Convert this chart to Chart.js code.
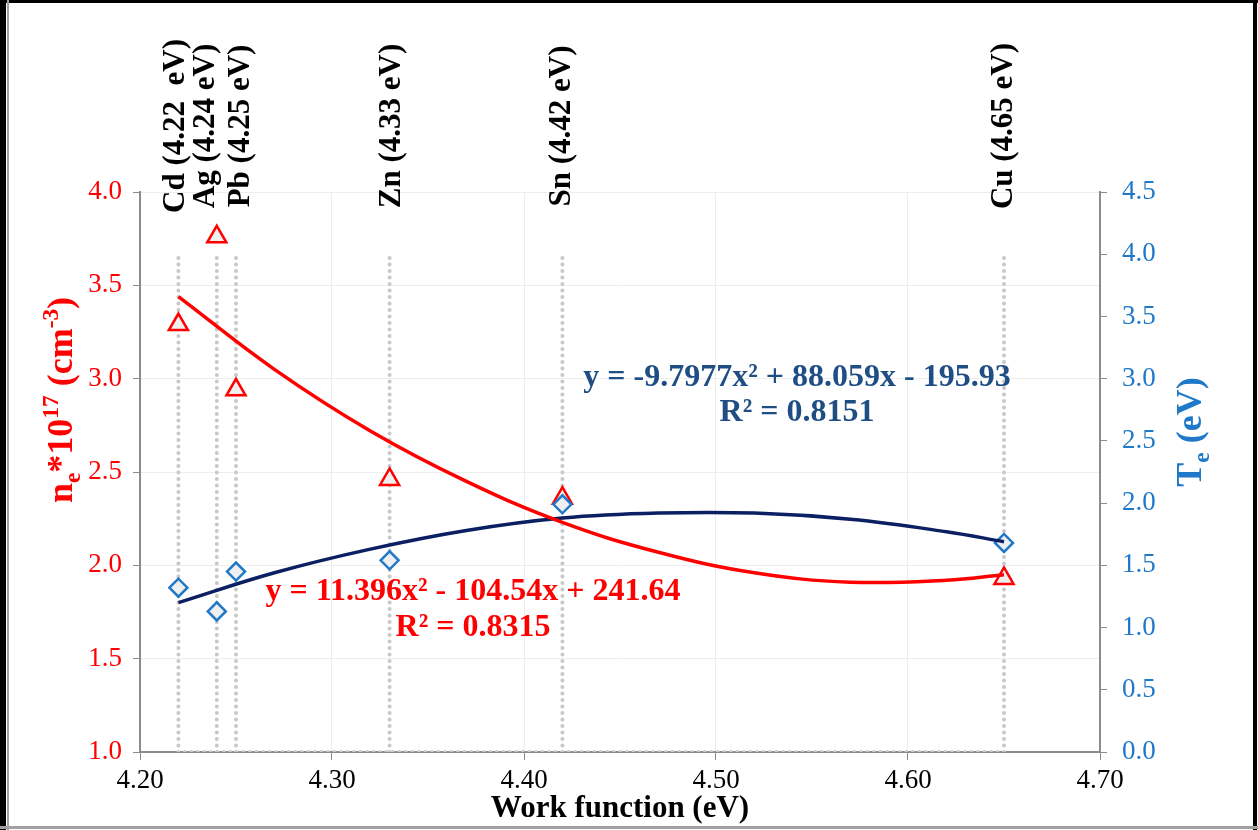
<!DOCTYPE html>
<html>
<head>
<meta charset="utf-8">
<script src="https://cdn.jsdelivr.net/npm/chart.js@4.4.0/dist/chart.umd.min.js"></script>
<style>
  html, body { margin: 0; padding: 0; background: #fff; }
  #wrap { width: 1258px; height: 830px; }
</style>
</head>
<body>
<div id="wrap"><canvas id="chart" width="1258" height="830"></canvas></div>
<script>
// values
const metalLabels = ['Cd (4.22  eV)', 'Ag (4.24 eV)', 'Pb (4.25 eV)', 'Zn (4.33 eV)', 'Sn (4.42 eV)', 'Cu (4.65 eV)'];
const workFunction = [4.22, 4.24, 4.25, 4.33, 4.42, 4.65];
const electronDensity = [3.29, 3.76, 2.94, 2.46, 2.36, 1.93];
const electronTemp = [1.32, 1.13, 1.45, 1.54, 1.99, 1.68];

// polynomial trendlines as drawn on the figure
const fitX = [4.22, 4.27, 4.32, 4.37, 4.42, 4.47, 4.52, 4.57, 4.62, 4.65];
const densityFit = [3.44, 3.05, 2.72, 2.45, 2.23, 2.07, 1.96, 1.91, 1.92, 1.95];
const tempFit = [1.20, 1.44, 1.63, 1.78, 1.88, 1.92, 1.92, 1.87, 1.77, 1.69];
const dropTop = 3.66;

const densityEq = ['y = 11.396x² - 104.54x + 241.64', 'R² = 0.8315'];
const tempEq = ['y = -9.7977x² + 88.059x - 195.93', 'R² = 0.8151'];

const serif = "'Liberation Serif', 'Times New Roman', serif";
const RED = '#ff0000';
const BLUE = '#1f78c8';
const NAVY = '#0b1f63';
const AXIS = '#8c8c8c';

function pts(xs, ys) {
    return xs.map((x, i) => ({ x: x, y: ys[i] }));
}

var dropPoints = [];
workFunction.forEach(function (x) {
    dropPoints.push({ x: x, y: 1 }, { x: x, y: dropTop }, { x: x, y: null });
});
dropPoints.push({ x: workFunction[0], y: 1 }, { x: workFunction[workFunction.length - 1], y: 1 });

function drawRich(ctx, runs, cx, cy, size, color) {
    ctx.save();
    ctx.translate(cx, cy);
    ctx.rotate(-Math.PI / 2);
    ctx.fillStyle = color;
    ctx.textBaseline = 'alphabetic';
    ctx.textAlign = 'left';
    var total = 0;
    runs.forEach(function (r) {
        var s = r[1] === 0 ? size : size * 0.65;
        ctx.font = 'bold ' + s + 'px ' + serif;
        r.w = ctx.measureText(r[0]).width;
        total += r.w;
    });
    var x = -total / 2;
    var base = size * 0.33;
    runs.forEach(function (r) {
        var s = r[1] === 0 ? size : size * 0.65;
        ctx.font = 'bold ' + s + 'px ' + serif;
        var dy = r[1] === -1 ? size * 0.22 : (r[1] === 1 ? -size * 0.38 : 0);
        ctx.fillText(r[0], x, base + dy);
        x += r.w;
    });
    ctx.restore();
}

const overlay = {
    id: 'overlay',
    afterDatasetsDraw(chart) {
        const ctx = chart.ctx;
        const xs = chart.scales.x;
        // metal labels at the top
        const offsets = [-2, -11, 5, 2, 0, 0];
        ctx.save();
        ctx.font = 'bold 31px ' + serif;
        ctx.fillStyle = '#000';
        ctx.textAlign = 'center';
        ctx.textBaseline = 'middle';
        workFunction.forEach(function (w, i) {
            ctx.save();
            ctx.translate(xs.getPixelForValue(w) + offsets[i], 126);
            ctx.rotate(-Math.PI / 2);
            ctx.fillText(metalLabels[i], 0, 0);
            ctx.restore();
        });
        // trendline equations
        ctx.font = 'bold 32px ' + serif;
        ctx.fillStyle = '#1f4e85';
        ctx.fillText(tempEq[0], 797, 378);
        ctx.fillText(tempEq[1], 797, 413);
        ctx.fillStyle = RED;
        ctx.fillText(densityEq[0], 473, 592);
        ctx.fillText(densityEq[1], 473, 628);
        ctx.restore();

        drawRich(ctx, [['n', 0], ['e', -1], ['*10', 0], ['17', 1], [' (cm', 0], ['-3', 1], [')', 0]], 60, 400, 36, RED);
        drawRich(ctx, [['T', 0], ['e', -1], [' (eV)', 0]], 1189, 432, 36, BLUE);
    },
    afterDraw(chart) {
        const ctx = chart.ctx;
        ctx.save();
        ctx.fillStyle = '#000';
        ctx.fillRect(0, 0, 6, 830);
        ctx.fillRect(0, 0, 1258, 3);
        ctx.fillRect(1253, 0, 4, 830);
        ctx.fillStyle = '#a0a0a0';
        ctx.fillRect(7, 0, 2, 830);
        ctx.fillRect(0, 826, 1258, 3);
        ctx.restore();
    }
};

new Chart(document.getElementById('chart'), {
    type: 'scatter',
    data: {
        datasets: [
            {
                label: 'ne fit',
                data: pts(fitX, densityFit),
                yAxisID: 'y',
                showLine: true,
                borderColor: RED,
                borderWidth: 3.5,
                pointRadius: 0,
                tension: 0.4
            },
            {
                label: 'Te fit',
                data: pts(fitX, tempFit),
                yAxisID: 'y2',
                showLine: true,
                borderColor: NAVY,
                borderWidth: 3.5,
                pointRadius: 0,
                tension: 0.4
            },
            {
                label: 'Te',
                data: pts(workFunction, electronTemp),
                yAxisID: 'y2',
                pointStyle: 'rectRot',
                pointRadius: 9,
                pointBorderWidth: 2.5,
                pointBorderColor: BLUE,
                pointBackgroundColor: '#efefef'
            },
            {
                label: 'ne',
                data: pts(workFunction, electronDensity),
                yAxisID: 'y',
                pointStyle: 'triangle',
                pointRadius: 11,
                pointBorderWidth: 2.5,
                pointBorderColor: RED,
                pointBackgroundColor: '#efefef'
            },
            {
                label: 'drop',
                data: dropPoints,
                yAxisID: 'y',
                showLine: true,
                spanGaps: false,
                borderColor: '#c8c8c8',
                borderWidth: 4,
                borderDash: [0, 6.5],
                borderCapStyle: 'round',
                pointRadius: 0
            }
        ]
    },
    options: {
        responsive: false,
        devicePixelRatio: 1,
        animation: false,
        layout: { padding: { top: 192, left: 0, right: 0, bottom: 0 } },
        plugins: { legend: { display: false }, tooltip: { enabled: false } },
        scales: {
            x: {
                type: 'linear',
                min: 4.2,
                max: 4.7,
                grid: { color: '#ededed', tickColor: AXIS, tickLength: 8 },
                border: { color: AXIS, width: 2 },
                ticks: {
                    stepSize: 0.1,
                    callback: v => v.toFixed(2),
                    color: '#000',
                    font: { size: 27, family: serif },
                    padding: 5,
                    maxRotation: 0
                },
                title: {
                    display: true,
                    text: 'Work function (eV)',
                    color: '#000',
                    font: { size: 31, weight: 'bold', family: serif },
                    padding: { top: 0, bottom: 2 }
                },
                afterFit: s => { s.height = 78; }
            },
            y: {
                position: 'left',
                min: 1,
                max: 4,
                grid: { color: '#ededed', tickColor: AXIS, tickLength: 7 },
                border: { color: AXIS, width: 2 },
                ticks: {
                    stepSize: 0.5,
                    callback: v => v.toFixed(1),
                    color: RED,
                    font: { size: 27, family: serif },
                    padding: 11
                },
                afterFit: s => { s.width = 140; }
            },
            y2: {
                position: 'right',
                min: 0,
                max: 4.5,
                grid: { drawOnChartArea: false, tickColor: AXIS, tickLength: 7 },
                border: { color: AXIS, width: 2 },
                ticks: {
                    stepSize: 0.5,
                    callback: v => v.toFixed(1),
                    color: BLUE,
                    font: { size: 27, family: serif },
                    padding: 15
                },
                afterFit: s => { s.width = 158; }
            }
        }
    },
    plugins: [overlay]
});
</script>
</body>
</html>
